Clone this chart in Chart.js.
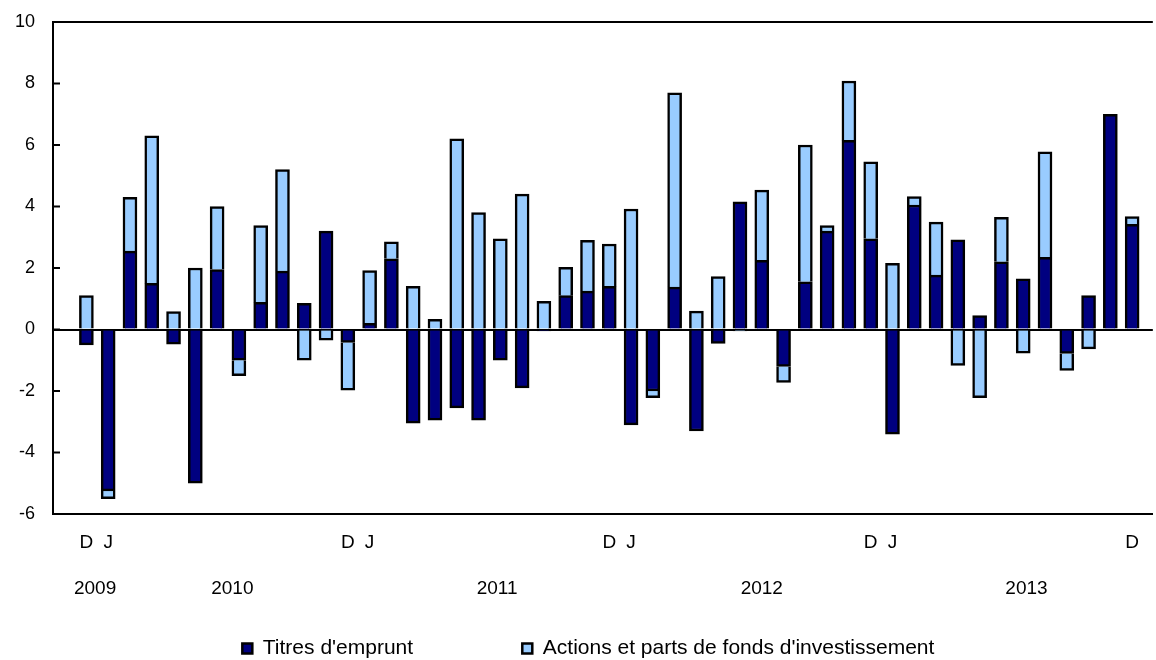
<!DOCTYPE html>
<html lang="fr">
<head>
<meta charset="utf-8">
<title>Titres d'emprunt et actions</title>
<script src="https://cdn.jsdelivr.net/npm/chart.js@4/dist/chart.umd.min.js"></script>
<style>
  html, body { margin: 0; padding: 0; background: #fff; overflow: hidden; }
  #cadre { width: 1156px; height: 660px; }
</style>
</head>
<body>
<div id="cadre"><canvas id="graphique" width="1156" height="660"></canvas></div>
<script>
// Mois de décembre 2009 à décembre 2013
const mois = ['D',
  'J','F','M','A','M','J','J','A','S','O','N','D',
  'J','F','M','A','M','J','J','A','S','O','N','D',
  'J','F','M','A','M','J','J','A','S','O','N','D',
  'J','F','M','A','M','J','J','A','S','O','N','D'];
const annees = ['2009', '2010', '2011', '2012', '2013'];

// Valeurs
const titresEmprunt = [-0.5,
  -5.25, 2.55, 1.5, -0.48, -5.0, 1.95, -1.0, 0.88, 1.9, 0.85, 3.2, -0.42,
  0.2, 2.3, -3.05, -2.95, -2.55, -2.95, -1.0, -1.9, -0.05, 1.1, 1.25, 1.4,
  -3.1, -2.0, 1.38, -3.3, -0.45, 4.15, 2.25, -1.2, 1.55, 3.2, 6.15, 2.95,
  -3.4, 4.05, 1.77, 2.92, 0.45, 2.2, 1.65, 2.35, -0.78, 1.1, 7.0, 3.42];
const actionsFonds = [1.1,
  -0.25, 1.75, 4.8, 0.58, 2.0, 2.05, -0.5, 2.5, 3.3, -1.0, -0.35, -1.55,
  1.72, 0.55, 1.4, 0.33, 6.2, 3.8, 2.95, 4.4, 0.92, 0.92, 1.65, 1.38,
  3.92, -0.22, 6.32, 0.6, 1.72, -0.05, 2.28, -0.52, 4.45, 0.18, 1.93, 2.5,
  2.15, 0.27, 1.72, -1.17, -2.22, 1.45, -0.77, 3.43, -0.55, -0.63, 0.0, 0.25];

const graduationsY = [-6, -4, -2, 0, 2, 4, 6, 8, 10];

// seuls les D et J de changement d'année sont affichés
const posMois = [];
mois.forEach((m, i) => {
    if (m === 'D' || (m === 'J' && mois[i - 1] === 'D')) posMois.push(i);
});
// année : 2009 sous le D, les autres vers le milieu de l'année
const posAnnees = annees.map((a, k) => k === 0 ? 0.4 : mois.indexOf('J') + 12 * (k - 1) + 5.7 + 0.15 * (k - 1));

const police = 'Arial, "Liberation Sans", Helvetica, sans-serif';

// petites graduations tournées vers l'intérieur sur l'axe vertical
const graduationsInternes = {
    id: 'graduationsInternes',
    afterDraw(chart) {
        const y = chart.scales.y;
        const ctx = chart.ctx;
        ctx.save();
        ctx.strokeStyle = '#000';
        ctx.lineWidth = 2;
        y.ticks.forEach(t => {
            const py = y.getPixelForValue(t.value);
            ctx.beginPath();
            ctx.moveTo(chart.chartArea.left, py);
            ctx.lineTo(chart.chartArea.left + 7, py);
            ctx.stroke();
        });
        ctx.restore();
    }
};

const ctx = document.getElementById('graphique').getContext('2d');
new Chart(ctx, {
    type: 'bar',
    data: {
        datasets: [{
            label: "Titres d'emprunt" + ' '.repeat(17),
            data: titresEmprunt.map((v, i) => ({ x: i, y: v })),
            backgroundColor: '#000080',
            borderColor: '#000',
            borderWidth: 2.5,
            barThickness: 14
        }, {
            label: "Actions et parts de fonds d'investissement" + ' '.repeat(5),
            data: actionsFonds.map((v, i) => ({ x: i, y: v })),
            backgroundColor: '#99CCFF',
            borderColor: '#000',
            borderWidth: 2.5,
            barThickness: 14
        }]
    },
    options: {
        responsive: false,
        animation: false,
        layout: { padding: { top: 22, bottom: -9, left: 0, right: 0 } },
        plugins: {
            tooltip: { enabled: false },
            legend: {
                position: 'bottom',
                fullSize: false,
                labels: {
                    font: { family: police, size: 21 },
                    color: '#000',
                    boxWidth: 10,
                    boxHeight: 10,
                    padding: 10
                }
            }
        },
        scales: {
            x: {
                type: 'linear',
                stacked: true,
                offset: false,
                min: -1.533,
                max: 48.95,
                weight: 0,
                grid: { display: false, drawTicks: false, offset: false },
                border: { display: true, color: '#000', width: 2 },
                afterBuildTicks(scale) {
                    scale.ticks = posMois.map(v => ({ value: v }));
                },
                afterFit(scale) { scale.height = 46; },
                ticks: {
                    autoSkip: false,
                    maxRotation: 0,
                    padding: 17,
                    color: '#000',
                    font: { family: police, size: 19 },
                    callback: v => mois[v]
                }
            },
            annee: {
                type: 'linear',
                position: 'bottom',
                offset: false,
                min: -1.533,
                max: 48.95,
                weight: 1,
                grid: { display: false, drawTicks: false, offset: false },
                border: { display: false },
                afterBuildTicks(scale) {
                    scale.ticks = posAnnees.map(v => ({ value: v }));
                },
                afterFit(scale) { scale.height = 68; },
                ticks: {
                    autoSkip: false,
                    maxRotation: 0,
                    padding: 17,
                    color: '#000',
                    font: { family: police, size: 19 },
                    callback: (v, i) => annees[i]
                }
            },
            y: {
                stacked: true,
                min: -6,
                max: 10,
                z: 1,
                afterBuildTicks(scale) {
                    scale.ticks = graduationsY.map(v => ({ value: v }));
                },
                afterFit(scale) {
                    scale.width = 53;
                    scale.paddingTop = 11;
                    scale.paddingBottom = 11;
                },
                grid: {
                    drawTicks: false,
                    lineWidth: 2,
                    color: c => (c.tick && (c.tick.value === 0 || c.tick.value === 10)) ? '#000' : 'rgba(0,0,0,0)'
                },
                border: { display: true, color: '#000', width: 2 },
                ticks: {
                    padding: 18,
                    color: '#000',
                    font: { family: police, size: 18 },
                    callback: v => String(v)
                }
            }
        }
    },
    plugins: [graduationsInternes]
});
</script>
</body>
</html>
